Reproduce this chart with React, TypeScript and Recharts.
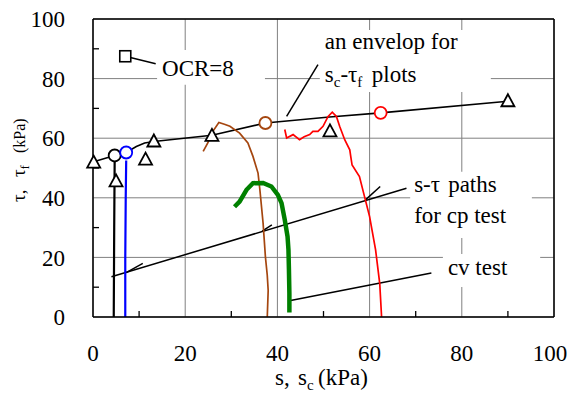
import React from "react";
import {
  ComposedChart,
  Line,
  Scatter,
  XAxis,
  YAxis,
  CartesianGrid,
  ReferenceLine,
  ReferenceArea,
} from "recharts";

const FONT = "Liberation Serif, Times New Roman, DejaVu Serif, serif";

// axis ticks
const majorTicks = [0, 20, 40, 60, 80, 100];
const minorTicks = [10, 30, 50, 70, 90];

// envelope of sc - tau_f plots
const envelope = [
  { x: 0.15, y: 52.1 },
  { x: 4.7, y: 54.2 },
  { x: 7.2, y: 55.2 },
  { x: 9.4, y: 57.2 },
  { x: 11.2, y: 58.4 },
  { x: 13.2, y: 58.9 },
  { x: 25.8, y: 61.0 },
  { x: 37.4, y: 65.1 },
  { x: 51.3, y: 67.1 },
  { x: 62.4, y: 68.5 },
  { x: 90, y: 72.4 },
];

// s-tau paths (cp tests), from the bottom up
const blackPath = [
  { x: 4.7, y: 52.5 },
  { x: 4.6, y: 30 },
  { x: 4.5, y: 0 },
];
const bluePath = [
  { x: 7.2, y: 52.5 },
  { x: 7.1, y: 40 },
  { x: 7.0, y: 20 },
  { x: 7.0, y: 0 },
];
const brownPath = [
  { x: 37.8, y: 0 },
  { x: 38.0, y: 8.9 },
  { x: 37.8, y: 14 },
  { x: 37.4, y: 20.2 },
  { x: 36.9, y: 31.4 },
  { x: 36.2, y: 42.7 },
  { x: 35.8, y: 48.3 },
  { x: 34.7, y: 53.9 },
  { x: 33.6, y: 58.4 },
  { x: 31.8, y: 61.7 },
  { x: 29.7, y: 64 },
  { x: 28.5, y: 64.7 },
  { x: 27.3, y: 65.3 },
  { x: 26.0, y: 62.3 },
  { x: 24.9, y: 58.4 },
  { x: 23.9, y: 55.6 },
];
const redPath = [
  { x: 62.6, y: 0 },
  { x: 62.2, y: 11.2 },
  { x: 61.3, y: 22.5 },
  { x: 60.0, y: 33.7 },
  { x: 58.9, y: 40.4 },
  { x: 57.8, y: 47.1 },
  { x: 56.2, y: 51 },
  { x: 55.9, y: 54 },
  { x: 55.7, y: 56.1 },
  { x: 54.6, y: 59.5 },
  { x: 53.5, y: 64 },
  { x: 52.8, y: 67.3 },
  { x: 51.9, y: 68.7 },
  { x: 51.0, y: 67.3 },
  { x: 49.9, y: 64 },
  { x: 48.8, y: 62.3 },
  { x: 47.7, y: 62.3 },
  { x: 47.0, y: 61.2 },
  { x: 45.8, y: 60.5 },
  { x: 44.8, y: 59.5 },
  { x: 43.4, y: 61.2 },
  { x: 42.0, y: 60.1 },
  { x: 41.6, y: 62.9 },
];

// cv test path
const greenPath = [
  { x: 42.6, y: 1.5 },
  { x: 42.6, y: 8 },
  { x: 42.5, y: 16 },
  { x: 42.4, y: 22.5 },
  { x: 42.2, y: 27 },
  { x: 41.6, y: 32.6 },
  { x: 40.9, y: 38.2 },
  { x: 40.1, y: 41 },
  { x: 38.7, y: 43.8 },
  { x: 36.9, y: 45 },
  { x: 34.7, y: 44.9 },
  { x: 33.3, y: 42.7 },
  { x: 31.8, y: 38.7 },
  { x: 30.7, y: 37 },
];

// open triangles
const triangles = [
  { x: 0.15, y: 51.8 },
  { x: 5.0, y: 45.5 },
  { x: 11.4, y: 52.8 },
  { x: 13.2, y: 58.9 },
  { x: 25.8, y: 60.8 },
  { x: 51.4, y: 62.3 },
  { x: 90, y: 72.4 },
];

// failure points (black, blue, brown, red)
const failurePoints = [
  { x: 4.7, y: 54.2 },
  { x: 7.2, y: 55.2 },
  { x: 37.4, y: 65.1 },
  { x: 62.4, y: 68.5 },
];
const failureColors = ["#000000", "#0000ff", "#a5460f", "#ff0000"];

const ocrPoint = [{ x: 7.0, y: 87.5 }];

// annotation pointers
const pointers = [
  [{ x: 7.0, y: 87.5 }, { x: 13.6, y: 85.0 }],
  [{ x: 42.0, y: 67.3 }, { x: 48.8, y: 84.7 }],
  [{ x: 4.0, y: 13.5 }, { x: 68.0, y: 43.2 }],
  [{ x: 7.2, y: 14.9 }, { x: 10.8, y: 18.0 }],
  [{ x: 36.7, y: 28.8 }, { x: 38.8, y: 30.9 }],
  [{ x: 59.1, y: 39.3 }, { x: 62.3, y: 43.8 }],
  [{ x: 42.3, y: 5.4 }, { x: 73.4, y: 14.8 }],
];

const Triangle = (p: any) => (
  <polygon
    points={`${p.cx},${p.cy - 7} ${p.cx - 6.5},${p.cy + 5} ${p.cx + 6.5},${p.cy + 5}`}
    fill="#fff"
    stroke="#000"
    strokeWidth={1.8}
  />
);

const Square = (p: any) => (
  <rect x={p.cx - 5.5} y={p.cy - 5.5} width={11} height={11} fill="#fff" stroke="#000" strokeWidth={1.6} />
);

const circleShape = (color: string) => (p: any) =>
  <circle cx={p.cx} cy={p.cy} r={6} fill="#fff" stroke={color} strokeWidth={1.8} />;

const txt = { fontFamily: FONT, fontSize: 23, fill: "#000" };

const XTick = ({ x, y, payload }: any) => (
  <text
    x={payload.value === 100 ? x - 4 : x}
    y={y}
    dy="0.71em"
    textAnchor="middle"
    style={{ fontFamily: FONT, fontSize: 23 }}
    fill="#000"
  >
    {payload.value}
  </text>
);

const YTick = ({ x, y, payload }: any) => (
  <text x={x} y={y} dy="0.355em" textAnchor="end" style={{ fontFamily: FONT, fontSize: 23 }} fill="#000">
    {payload.value}
  </text>
);

const XTitle = () => (
  <text y={385} style={{ fontFamily: FONT, fontSize: 23 }} fill="#000">
    <tspan x={275}>s,</tspan>
    <tspan x={298}>s</tspan>
    <tspan dy={5} style={{ fontSize: 15 }}>c</tspan>
    <tspan x={318} dy={-5}>(kPa)</tspan>
  </text>
);

const YTitle = () => (
  <text transform="rotate(-90)" y={25} style={{ fontFamily: FONT, fontSize: 16 }} fill="#000">
    <tspan x={-202} style={{ fontSize: 19 }}>τ,</tspan>
    <tspan x={-177} style={{ fontSize: 19 }}>τ</tspan>
    <tspan dy={4} style={{ fontSize: 12 }}>f</tspan>
    <tspan x={-153} dy={-4}>(kPa)</tspan>
  </text>
);

const noteStyle = { fontFamily: FONT, fontSize: 23 };

const OcrNote = ({ viewBox }: any) => (
  <text x={viewBox.x + 5} y={viewBox.y + 26} style={noteStyle} fill="#000">OCR=8</text>
);

const EnvelopeNote = ({ viewBox }: any) => {
  const { x, y } = viewBox;
  return (
    <g>
      <text x={x + 5} y={y + 19} style={noteStyle} fill="#000">an envelop for</text>
      <text y={y + 52} style={noteStyle} fill="#000">
        <tspan x={x + 5}>s</tspan>
        <tspan dy={5} style={{ fontSize: 15 }}>c</tspan>
        <tspan dy={-5}>-τ</tspan>
        <tspan dy={5} style={{ fontSize: 15 }}>f</tspan>
        <tspan x={x + 52} dy={-5}>plots</tspan>
      </text>
    </g>
  );
};

const CpNote = ({ viewBox }: any) => {
  const { x, y } = viewBox;
  return (
    <g>
      <text y={y + 20} style={noteStyle} fill="#000">
        <tspan x={x + 4}>s-τ</tspan>
        <tspan x={x + 38}>paths</tspan>
      </text>
      <text x={x + 4} y={y + 51} style={noteStyle} fill="#000">for cp test</text>
    </g>
  );
};

const CvNote = ({ viewBox }: any) => (
  <text x={viewBox.x + 5} y={viewBox.y + 21} style={noteStyle} fill="#000">cv test</text>
);

export default function App() {
  return (
    <div style={{ position: "absolute", left: 0, top: 0, background: "#fff" }}>
      <ComposedChart width={568} height={394} margin={{ top: 19, right: 14, bottom: 0, left: 0 }}>
        <CartesianGrid stroke="#808080" strokeWidth={1} />
        <XAxis
          type="number"
          dataKey="x"
          domain={[0, 100]}
          ticks={majorTicks}
          interval={0}
          tickSize={0}
          tickMargin={28}
          height={77}
          axisLine={{ stroke: "#000", strokeWidth: 1.5 }}
          tick={XTick}
          label={{ content: XTitle }}
        />
        <YAxis
          type="number"
          dataKey="y"
          domain={[0, 100]}
          ticks={majorTicks}
          interval={0}
          width={93}
          tickSize={0}
          tickMargin={28}
          axisLine={{ stroke: "#000", strokeWidth: 1.5 }}
          tick={YTick}
          label={{ content: YTitle }}
        />
        <ReferenceLine y={100} stroke="#000" strokeWidth={1.5} />
        <ReferenceLine x={100} stroke="#000" strokeWidth={1.5} />
        {minorTicks.map((t) => (
          <ReferenceLine key={`xt${t}`} segment={[{ x: t, y: 0 }, { x: t, y: 2 }]} stroke="#000" strokeWidth={1.3} />
        ))}
        {minorTicks.map((t) => (
          <ReferenceLine key={`yt${t}`} segment={[{ x: 0, y: t }, { x: 1.3, y: t }]} stroke="#000" strokeWidth={1.3} />
        ))}

        <ReferenceArea x1={13.9} x2={37.3} y1={77.9} y2={89.6} fill="#fff" fillOpacity={1} stroke="none" label={OcrNote} />
        <ReferenceArea x1={49.2} x2={86.3} y1={75.5} y2={96.3} fill="#fff" fillOpacity={1} stroke="none" label={EnvelopeNote} />
        <ReferenceArea x1={68.8} x2={95.2} y1={26.5} y2={48.7} fill="#fff" fillOpacity={1} stroke="none" label={CpNote} />
        <ReferenceArea x1={75.9} x2={97.0} y1={10.1} y2={21.1} fill="#fff" fillOpacity={1} stroke="none" label={CvNote} />

        {pointers.map((seg, i) => (
          <ReferenceLine key={`p${i}`} segment={seg} stroke="#000" strokeWidth={1.5} />
        ))}

        <Line data={envelope} dataKey="y" type="linear" stroke="#000" strokeWidth={1.6} dot={false} isAnimationActive={false} />
        <Line data={blackPath} dataKey="y" type="linear" stroke="#000" strokeWidth={2.2} dot={false} isAnimationActive={false} />
        <Line data={bluePath} dataKey="y" type="linear" stroke="#0000ff" strokeWidth={2.2} dot={false} isAnimationActive={false} />
        <Line data={brownPath} dataKey="y" type="linear" stroke="#a5460f" strokeWidth={1.7} dot={false} isAnimationActive={false} />
        <Line data={redPath} dataKey="y" type="linear" stroke="#ff0000" strokeWidth={1.7} dot={false} isAnimationActive={false} />
        <Line data={greenPath} dataKey="y" type="linear" stroke="#008000" strokeWidth={4.5} dot={false} isAnimationActive={false} />

        <Scatter data={triangles} shape={Triangle} isAnimationActive={false} />
        {failurePoints.map((p, i) => (
          <Scatter key={`f${i}`} data={[p]} shape={circleShape(failureColors[i])} isAnimationActive={false} />
        ))}
        <Scatter data={ocrPoint} shape={Square} isAnimationActive={false} />
      </ComposedChart>
    </div>
  );
}
